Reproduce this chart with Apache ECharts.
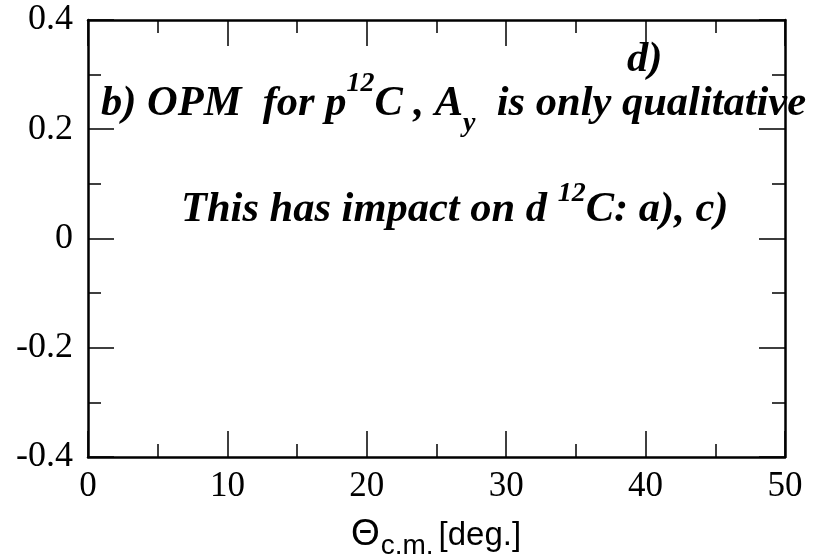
<!DOCTYPE html>
<html>
<head>
<meta charset="utf-8">
<script src="https://cdn.jsdelivr.net/npm/echarts@6/dist/echarts.min.js"></script>
<style>
  html, body { margin: 0; padding: 0; background: #ffffff; }
  #chart { width: 815px; height: 559px; }
</style>
</head>
<body>
<div id="chart"></div>
<script>
// Axis ranges and tick settings (scattering angle vs. analyzing power)
const xRange = [0, 50];
const xMajorStep = 10;
const yRange = [-0.4, 0.4];
const yMajorStep = 0.2;
const yTickLabels = { '-0.4': '-0.4', '-0.2': '-0.2', '0': '0', '0.2': '0.2', '0.4': '0.4' };

// The panel carries no curves, only its frame and notes
const angles = [];
const values = [];

const serif = '"Liberation Serif", "Times New Roman", serif';
const sans = '"Liberation Sans", Arial, sans-serif';

function yLabel(v) {
  const key = String(Math.round(v * 10) / 10);
  return yTickLabels[key] !== undefined ? yTickLabels[key] : key;
}

const tickStyle = { color: '#000', width: 1.5 };
const frameLine = { show: true, onZero: false, lineStyle: { color: '#000', width: 2.5 } };

function makeX(pos, showLabels) {
  return {
    type: 'value', position: pos, min: xRange[0], max: xRange[1], interval: xMajorStep,
    axisLine: frameLine,
    axisTick: { show: true, inside: true, length: 26, lineStyle: tickStyle },
    minorTick: { show: true, splitNumber: 2, length: 13, lineStyle: tickStyle },
    splitLine: { show: false },
    axisLabel: { show: showLabels, margin: 12, color: '#000', fontFamily: serif, fontSize: 35 }
  };
}
function makeY(pos, showLabels) {
  return {
    type: 'value', position: pos, min: yRange[0], max: yRange[1], interval: yMajorStep,
    axisLine: frameLine,
    axisTick: { show: true, inside: true, length: 26, lineStyle: tickStyle },
    minorTick: { show: true, splitNumber: 2, length: 13, lineStyle: tickStyle },
    splitLine: { show: false },
    axisLabel: {
      show: showLabels, margin: 15, color: '#000', fontFamily: serif, fontSize: 36,
      padding: [6, 0, 0, 0], formatter: yLabel
    }
  };
}

const noteBase = { fontFamily: serif, fontSize: 42.5, fontWeight: 'bold', fontStyle: 'italic', color: '#000', verticalAlign: 'bottom' };
const noteSmall = { fontFamily: serif, fontSize: 28, fontWeight: 'bold', fontStyle: 'italic', color: '#000', verticalAlign: 'bottom' };
const rs = (base, extra) => Object.assign({}, base, extra);

const chart = echarts.init(document.getElementById('chart'), null, { renderer: 'canvas' });
chart.setOption({
  backgroundColor: '#ffffff',
  animation: false,
  grid: { left: 88, right: 30, top: 20, bottom: 102 },
  xAxis: [makeX('bottom', true), makeX('top', false)],
  yAxis: [makeY('left', true), makeY('right', false)],
  series: [{
    type: 'line', xAxisIndex: 0, yAxisIndex: 0,
    data: angles.map((a, i) => [a, values[i]]),
    showSymbol: false, lineStyle: { color: '#000' }
  }],
  graphic: [
    {
      type: 'text', x: 627, y: 98,
      style: {
        text: '{m|d)}', textAlign: 'left', textVerticalAlign: 'bottom',
        rich: { m: rs(noteBase, { padding: [0, 0, 16, 0] }) }
      }
    },
    {
      type: 'text', x: 101, y: 142,
      style: {
        text: '{m|b) OPM  for p}{sup|12}{m|C , A}{sub|y}{m|  is only qualitative}',
        textAlign: 'left', textVerticalAlign: 'bottom',
        rich: {
          m: rs(noteBase, { padding: [0, 0, 16, 0] }),
          sup: rs(noteSmall, { padding: [0, 0, 44, 0] }),
          sub: rs(noteSmall, { padding: [0, 0, 4, 0] })
        }
      }
    },
    {
      type: 'text', x: 181, y: 248,
      style: {
        text: '{m|This has impact on d }{sup|12}{m|C: a), c)}',
        textAlign: 'left', textVerticalAlign: 'bottom',
        rich: {
          m: rs(noteBase, { padding: [0, 0, 16, 0] }),
          sup: rs(noteSmall, { padding: [0, 0, 40, 0] })
        }
      }
    },
    {
      type: 'text', x: 436, y: 562,
      style: {
        text: '{g|Θ}{s|c.m.}{t|[deg.]}',
        textAlign: 'center', textVerticalAlign: 'bottom',
        rich: {
          g: { fontFamily: sans, fontSize: 37, color: '#000', verticalAlign: 'bottom', padding: [0, 1, 9, 0] },
          t: { fontFamily: sans, fontSize: 33, color: '#000', verticalAlign: 'bottom', padding: [0, 0, 10, 0] },
          s: { fontFamily: sans, fontSize: 28, color: '#000', verticalAlign: 'bottom', padding: [0, 5, 2, 0] }
        }
      }
    }
  ]
});
</script>
</body>
</html>
